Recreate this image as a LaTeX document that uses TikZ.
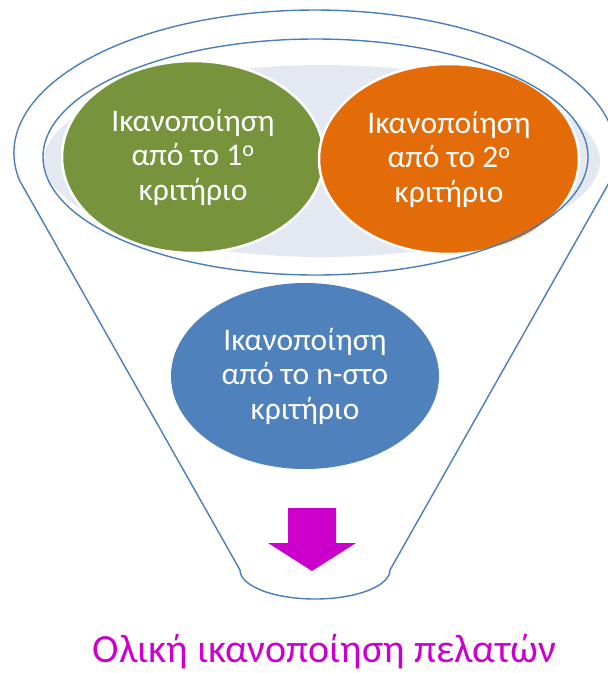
\documentclass[tikz,border=0pt]{standalone}
\usepackage{fontspec}
\setmainfont{Carlito}
\usetikzlibrary{shapes.geometric}
\definecolor{funnelline}{HTML}{4A7EBB}
\definecolor{greenc}{HTML}{77933C}
\definecolor{orangec}{HTML}{E36C09}
\definecolor{bluec}{HTML}{4F81BD}
\definecolor{backdropc}{HTML}{E3E8F1}
\definecolor{magentac}{HTML}{CC00CC}
\tikzset{
  crit/.style={ellipse, inner sep=0pt, text=white, align=center,
    font=\fontsize{31.5}{34.5}\selectfont},
  outline/.style={draw=funnelline, line width=1.4pt},
}
\begin{document}
\begin{tikzpicture}[x=1pt,y=-1pt]
\useasboundingbox (0,0) rectangle (608,673);
\begin{scope}
\clip (0,0) rectangle (608,673);
% backdrop
\fill[backdropc] (322,161) ellipse [x radius=278, y radius=96];
% criteria ellipses
\node[crit, fill=greenc, draw=white, line width=2.5pt, minimum width=262pt, minimum height=192pt] (c1) at (193,157)
  {Ικανοποίηση\\από το 1\textsuperscript{ο}\\κριτήριο};
\node[crit, fill=orangec, draw=white, line width=2.5pt, minimum width=260pt, minimum height=190pt] (c2) at (449,159)
  {Ικανοποίηση\\από το 2\textsuperscript{ο}\\κριτήριο};
\node[crit, fill=bluec, minimum width=268pt, minimum height=186pt] (cn) at (305,376)
  {Ικανοποίηση\\από το n-στο\\κριτήριο};
% funnel outline
\coordinate (bl) at (240,570);
\coordinate (br) at (390,570);
\coordinate (tl) at (19.5,180.3);
\draw[outline] (bl) -- (tl)
  arc[start angle=169, end angle=371, x radius=301, y radius=143]
  -- (br) arc[start angle=0, end angle=180, x radius=75, y radius=29] -- cycle;
% rim
\draw[outline] (315.5,157) ellipse [x radius=272.5, y radius=118];
\end{scope}
% arrow
\fill[magentac] (288,508) -- (336,508) -- (336,543) -- (356,543) -- (312,571)
  -- (268,543) -- (288,543) -- cycle;
% result label
\node[anchor=base, text=magentac, font=\fontsize{40}{48}\selectfont, inner sep=0pt] (res) at (324.5,662.5)
  {Ολική ικανοποίηση πελατών};
\end{tikzpicture}
\end{document}
